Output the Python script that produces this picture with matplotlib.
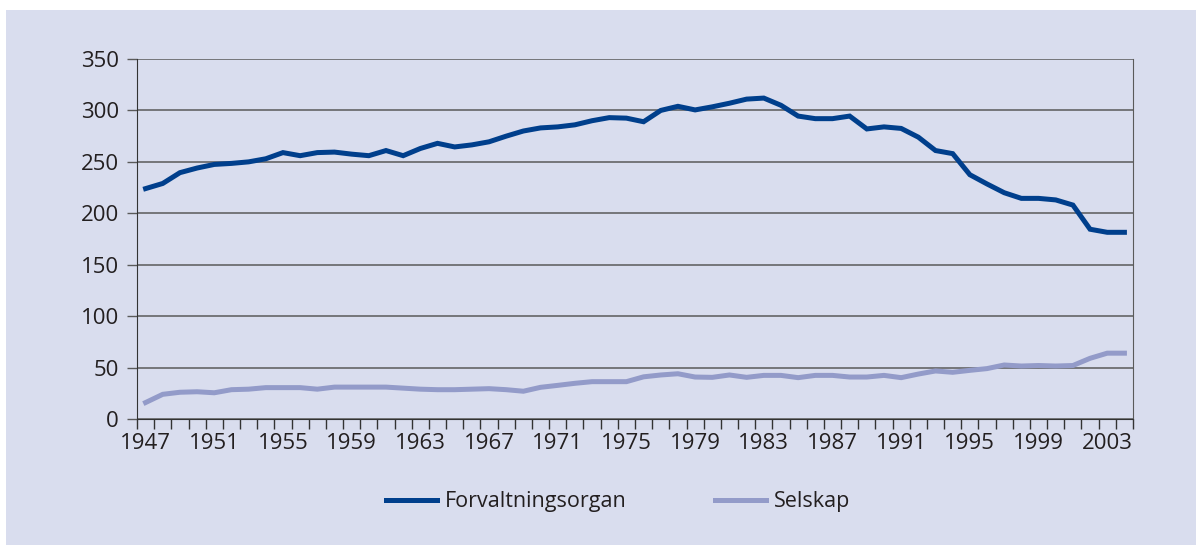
import matplotlib.pyplot as plt
import numpy as np

plt.rcParams['font.family'] = ['Open Sans', 'DejaVu Sans']

# years 1947-2004
years = list(range(1947, 2005))

forvaltningsorgan = [
    224, 229, 239.5, 244, 247.5, 248.5, 250, 253, 259, 256,
    259, 259.5, 257.5, 256, 261, 256, 263, 268, 264.5, 266.5,
    269.5, 275, 280, 283, 284, 286, 290, 293, 292.5, 289,
    300, 304, 300.5, 303.5, 307, 311, 312, 305, 294.5, 292,
    292, 294.5, 282, 284, 282.5, 274, 261, 258, 237.5, 228.5,
    220, 214.5, 214.5, 213, 208, 184.5, 181.5, 181.5,
]

selskap = [
    16, 24, 26, 26.5, 25.5, 28.5, 29, 30.5, 30.5, 30.5,
    29, 31, 31, 31, 31, 30, 29, 28.5, 28.5, 29,
    29.5, 28.5, 27, 30.8, 32.7, 34.7, 36.3, 36.3, 36.3, 41,
    42.8, 44, 40.8, 40.5, 42.8, 40.5, 42.4, 42.4, 40.2, 42.4,
    42.4, 40.8, 40.8, 42.4, 40.2, 43.7, 46.7, 45.4, 47.3, 49,
    52.5, 51.5, 52, 51.5, 52, 59, 64, 64,
]

bg = '#d9ddee'
grid_col = '#5a5a5a'

fig = plt.figure(figsize=(11.96, 5.45), dpi=100)
fig.patch.set_facecolor('white')
# bakgrunnspanel
fig.patches.append(plt.Rectangle((6 / 1196, 0), 1, 1 - 10 / 545,
                                 transform=fig.transFigure, facecolor=bg,
                                 edgecolor='none', zorder=-5))

ax = fig.add_axes([137 / 1196, 1 - 419 / 545, (1133 - 137) / 1196, 360 / 545])
ax.set_facecolor(bg)

x = np.arange(len(years))
ax.plot(x, forvaltningsorgan, color='#003f8c', lw=3.6, label='Forvaltningsorgan',
        solid_joinstyle='miter', zorder=3)
ax.plot(x, selskap, color='#939bc9', lw=3.6, label='Selskap',
        solid_joinstyle='miter', zorder=3)

ax.set_xlim(-0.5, len(years) - 0.5)
ax.set_ylim(0, 350)
ax.set_yticks(range(0, 351, 50))
ax.yaxis.grid(True, color=grid_col, lw=1.1)
ax.set_axisbelow(True)

ax.set_xticks(np.arange(-0.5, len(years), 1.0))
ax.set_xticklabels([])
ax.set_xticks(x[::4], minor=True)
ax.set_xticklabels([str(y) for y in years[::4]], minor=True)
ax.tick_params(axis='x', which='major', length=7, width=1, color='#333333', direction='out')
ax.tick_params(axis='x', which='minor', length=0, pad=10, labelsize=16, labelcolor='#231f20')
ax.tick_params(axis='y', length=7, width=1, color=grid_col, pad=6, labelsize=16,
               labelcolor='#231f20')

ax.spines['top'].set_visible(False)
ax.spines['left'].set_color('#333333')
ax.spines['bottom'].set_color('#333333')
ax.spines['right'].set_color(grid_col)

fig.legend(loc='center', bbox_to_anchor=(618 / 1196, 1 - 502 / 545), ncol=2,
           frameon=False, fontsize=15.5, handlelength=2.4, handletextpad=0.35,
           columnspacing=4.1, labelcolor='#231f20')

fig.savefig('out.png', dpi=100, facecolor=fig.get_facecolor())
